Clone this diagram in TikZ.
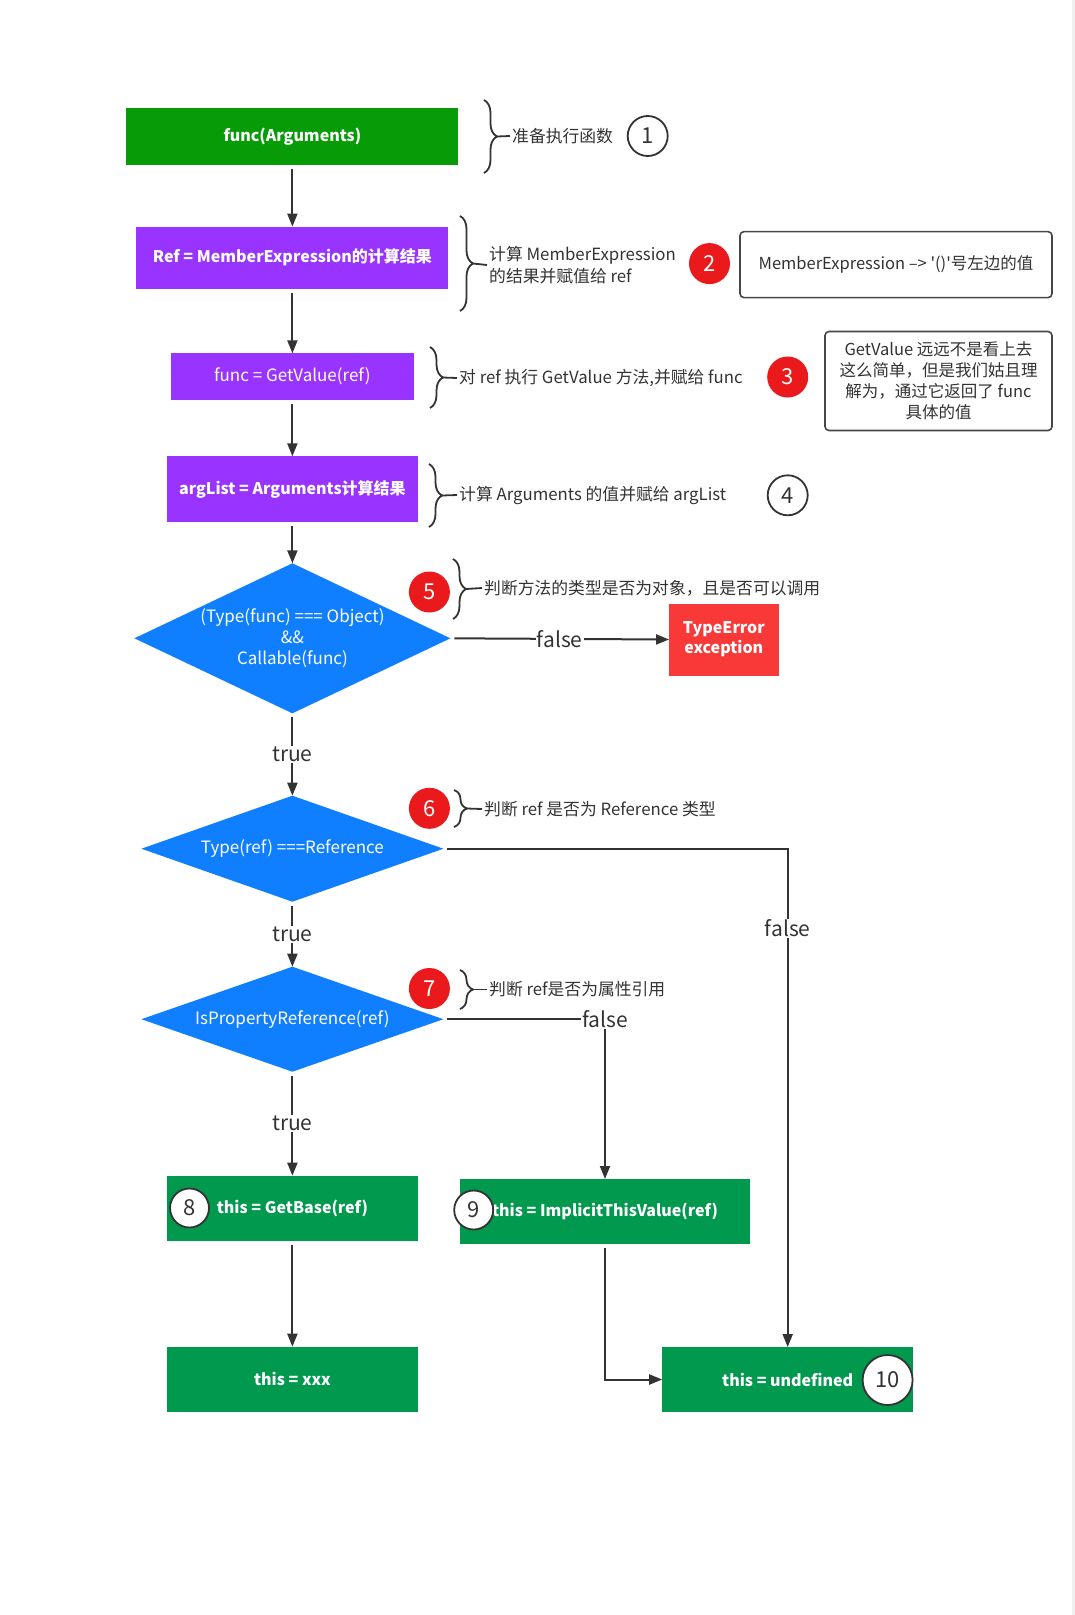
\documentclass[tikz,border=0pt]{standalone}
\usepackage{fontspec}
\setmainfont{Noto Sans CJK SC}
\usetikzlibrary{arrows.meta,positioning,shapes.geometric,decorations.pathreplacing}
\definecolor{jsgreen}{HTML}{089B08}
\definecolor{jsteal}{HTML}{00994D}
\definecolor{jspurple}{HTML}{9933FF}
\definecolor{jsblue}{HTML}{0F7FFF}
\definecolor{jsred}{HTML}{F93838}
\definecolor{jsbadge}{HTML}{EA1A1C}
\definecolor{jsink}{HTML}{333333}
\newcommand{\sq}{\XeTeXglyph\XeTeXcharglyph"27\relax}

\begin{document}
\begin{tikzpicture}[
    x=1pt, y=-1pt,
    node distance=60pt,
    box/.style={fill=#1, text=white, inner sep=2pt, outer sep=0pt,
                font=\fontsize{16}{20}\selectfont\bfseries, align=center},
    cond/.style={diamond, fill=jsblue, text=white, inner sep=0pt, outer sep=0pt,
                 font=\fontsize{17}{21}\selectfont, align=center},
    memo/.style={draw=jsink!90, line width=1.6pt, rounded corners=4pt, fill=white,
                 text=jsink, font=\fontsize{16.5}{21}\selectfont, align=center},
    say/.style={text=jsink, font=\fontsize{16.8}{22}\selectfont, align=left, inner sep=2pt},
    redbadge/.style={circle, fill=jsbadge, text=white, minimum size=41pt, inner sep=0pt,
                     font=\fontsize{22}{22}\selectfont},
    numbadge/.style={circle, draw=jsink, line width=1.8pt, fill=white, text=jsink,
                     minimum size=40pt, inner sep=0pt, font=\fontsize{22}{22}\selectfont},
    brc/.style={decorate, decoration={brace, amplitude=13pt}, line width=1.8pt, jsink},
    tick/.style={line width=1.8pt, jsink},
    arr/.style={-{Triangle[length=13pt,width=10pt]}, line width=2pt, jsink, shorten <=4pt},
    yesno/.style={fill=white, text=jsink, inner sep=1pt, font=\fontsize{21}{21}\selectfont},
  ]
  \useasboundingbox (0,0) rectangle (1075,1615);
  \fill[white] (0,0) rectangle (1075,1615);
  \fill[black!6] (1072,0) rectangle (1075,1615);

  % main column
  \node[box=jsgreen, minimum width=332pt, minimum height=57pt] (fn) at (292.4,136.4) {func(Arguments)};
  \node[box=jspurple, minimum width=312pt, minimum height=62pt, below=61.7pt of fn] (ref) {Ref = MemberExpression的计算结果};
  \node[box=jspurple, minimum width=243pt, minimum height=46.5pt, below=64.7pt of ref,
        font=\fontsize{17}{20}\selectfont] (getval) {func = GetValue(ref)};
  \node[box=jspurple, minimum width=251pt, minimum height=66pt, below=56.5pt of getval] (args) {argList = Arguments计算结果};
  \node[cond, minimum width=316pt, minimum height=150pt, shape aspect=2.1, below=41pt of args] (callable)
       {(Type(func) === Object)\\\&\&\\Callable(func)};
  \node[cond, minimum width=302pt, minimum height=106pt, shape aspect=2.85, below=82.4pt of callable] (isref)
       {Type(ref) ===Reference};
  \node[cond, minimum width=302pt, minimum height=105pt, shape aspect=2.85, below=65pt of isref] (isprop)
       {IsPropertyReference(ref)};
  \node[box=jsteal, minimum width=251pt, minimum height=65pt, below=104pt of isprop] (base) {this = GetBase(ref)};
  \node[box=jsteal, minimum width=251pt, minimum height=65pt, below=106pt of base] (xxx) {this = xxx};

  % side boxes
  \node[box=jsred, minimum width=109.5pt, minimum height=72pt] (typeerr) at (723.8,639.5) {TypeError\\exception};
  \node[box=jsteal, minimum width=289.6pt, minimum height=65pt] (implicit) at (605,1211.5) {this = ImplicitThisValue(ref)};
  \node[box=jsteal, minimum width=251pt, minimum height=65pt] (undef) at (787.7,1379.5) {this = undefined};

  % notes
  \node[memo, minimum width=312pt, minimum height=66pt] (memberNote) at (896,264.6) {MemberExpression –> \sq()\sq 号左边的值};
  \node[memo, minimum width=227pt, minimum height=99pt, inner sep=1pt] (getvalNote) at (938.5,381)
       {GetValue 远远不是看上去\\这么简单，但是我们姑且理\\解为，通过它返回了 func\\具体的值};

  % braces and remarks
  \node[say, anchor=west] (say1) at (510,136) {准备执行函数};
  \draw[brc] (484,100) -- (484,173);
  \draw[tick] (497,136.5) -- (say1.west);
  \node[say, anchor=west] (say2) at (487,265) {计算 MemberExpression\\的结果并赋值给 ref};
  \draw[brc] (460,216) -- (460,311);
  \draw[tick] (473,263.5) -- (say2.west);
  \node[say, anchor=west] (say3) at (457,378) {对 ref 执行 GetValue 方法,并赋给 func};
  \draw[brc] (430,347) -- (430,408);
  \draw[tick] (443,377.5) -- (say3.west);
  \node[say, anchor=west] (say4) at (457,495) {计算 Arguments 的值并赋给 argList};
  \draw[brc] (429,464) -- (429,527);
  \draw[tick] (442,495.5) -- (say4.west);
  \node[say, anchor=west] (say5) at (482,588) {判断方法的类型是否为对象，且是否可以调用};
  \draw[brc] (453,559) -- (453,619);
  \draw[tick] (466,589) -- (say5.west);
  \node[say, anchor=west] (say6) at (482,809) {判断 ref 是否为 Reference 类型};
  \draw[brc] (454,790) -- (454,827);
  \draw[tick] (467,808.5) -- (say6.west);
  \node[say, anchor=west] (say7) at (487,989.5) {判断 ref是否为属性引用};
  \draw[brc] (460,970) -- (460,1009);
  \draw[tick] (473,989.5) -- (say7.west);

  % badges
  \node[numbadge] (n1) at (647.7,136) {1};
  \node[redbadge] (n2) at (709.5,263.6) {2};
  \node[redbadge] (n3) at (787.7,377) {3};
  \node[numbadge] (n4) at (787.7,495.3) {4};
  \node[redbadge] (n5) at (429.4,592) {5};
  \node[redbadge] (n6) at (429.4,808.3) {6};
  \node[redbadge] (n7) at (429.4,988.5) {7};

  % connectors
  \draw[arr] (fn) -- (ref);
  \draw[arr] (ref) -- (getval);
  \draw[arr] (getval) -- (args);
  \draw[arr] (args) -- (callable);
  \draw[arr] (callable.south) -- (isref.north) node[midway, yesno] {true};
  \draw[arr] (isref.south) -- (isprop.north) node[midway, yesno] {true};
  \draw[arr] (isprop.south) -- (base.north) node[midway, yesno] {true};
  \draw[arr] (base) -- (xxx);
  \draw[arr] (callable.east) -- (typeerr.west) node[midway, yesno] {false};
  \draw[arr] (isref.east) -| (undef.north) node[pos=0.58, yesno] {false};
  \draw[arr] (isprop.east) -| (implicit.north) node[pos=0.5, yesno] {false};
  \draw[arr] (implicit.south) |- (undef.west);

  \node[numbadge, minimum size=39pt] (n8) at (189.5,1208) {8};
  \node[numbadge, minimum size=39pt] (n9) at (473.7,1210) {9};
  \node[numbadge, minimum size=50pt] (n10) at (887.6,1380) {10};
\end{tikzpicture}
\end{document}
